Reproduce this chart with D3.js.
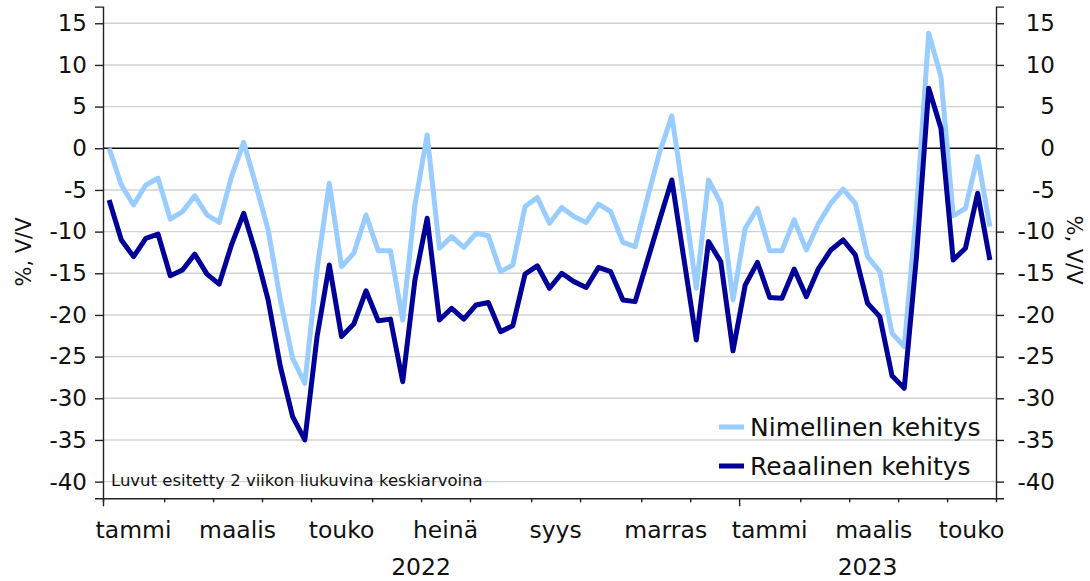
<!DOCTYPE html>
<html>
<head>
<meta charset="utf-8">
<script src="https://cdn.jsdelivr.net/npm/d3@7/dist/d3.min.js"></script>
<style>
    body { margin: 0; background: #fff; }
    svg { display: block; font-family: "DejaVu Sans", sans-serif; }
</style>
</head>
<body>
<svg id="vis" width="1090" height="581"></svg>
<script>
// weekly series, 2 week moving average (Jan 2022 -> May 2023)
var nimellinen = [
    0, -4.4, -6.8, -4.4, -3.6, -8.5, -7.6, -5.7, -8.0, -8.9,
    -3.4, 0.7, -4.4, -9.8, -18.2, -25.2, -28.2, -14.5, -4.2, -14.2,
    -12.6, -8.0, -12.3, -12.3, -20.6, -6.8, 1.6, -12.0, -10.6, -11.9,
    -10.2, -10.5, -14.8, -14.0, -7.0, -5.9, -9.0, -7.1, -8.2, -8.9,
    -6.7, -7.6, -11.3, -11.8, -6.0, -0.5, 3.9, -6.0, -16.8, -3.8,
    -6.6, -18.2, -9.6, -7.2, -12.3, -12.3, -8.6, -12.2, -9.0, -6.6,
    -4.9, -6.6, -13.0, -14.8, -22.2, -23.8, -7.5, 13.8, 8.6, -8.1,
    -7.2, -1.0, -9.4
];
var reaalinen = [
    -6.2, -11.0, -13.0, -10.8, -10.3, -15.3, -14.6, -12.7, -15.1, -16.3,
    -11.6, -7.8, -12.6, -18.2, -26.2, -32.2, -35.0, -22.6, -14.0, -22.6,
    -21.1, -17.1, -20.7, -20.5, -28.0, -15.8, -8.4, -20.6, -19.2, -20.5,
    -18.8, -18.5, -22.0, -21.3, -15.1, -14.1, -16.8, -15.0, -16.0, -16.7,
    -14.3, -14.8, -18.2, -18.4, -13.5, -8.6, -3.8, -13.4, -23.0, -11.2,
    -13.6, -24.3, -16.4, -13.7, -17.9, -18.0, -14.5, -17.8, -14.4, -12.2,
    -11.0, -12.8, -18.6, -20.2, -27.3, -28.8, -13.0, 7.2, 2.4, -13.4,
    -12.0, -5.4, -13.4
];

// weeks in each month on the category axis
var monthWeeks = [5, 4, 4, 4, 5, 4, 4, 5, 4, 5, 4, 4, 5, 4, 4, 4, 4];
var monthLabels = ["tammi", "", "maalis", "", "touko", "", "heinä", "", "syys", "", "marras", "",
                   "tammi", "", "maalis", "", "touko"];
var years = ["2022", "2023"];
var yearMonths = [12, 5];

var yTicks = [-40, -35, -30, -25, -20, -15, -10, -5, 0, 5, 10, 15];

var seriesNames = ["Nimellinen kehitys", "Reaalinen kehitys"];
var seriesColours = ["#99ccff", "#000099"];

const MARGINS = {top: 6.6, right: 94, bottom: 82.7, left: 103};
const WIDTH = 1090, HEIGHT = 581;

window.onload = function(){
    draw();
};

function draw(){
    var svg = d3.select("#vis");
    var nWeeks = d3.sum(monthWeeks);

    var x = d3.scaleLinear()
        .domain([0, nWeeks])
        .range([MARGINS.left, WIDTH - MARGINS.right]);
    var y = d3.scaleLinear()
        .domain([-42, 17])
        .range([HEIGHT - MARGINS.bottom, MARGINS.top]);

    // gridlines
    svg.append("g")
        .selectAll("line")
        .data(yTicks.filter(function(d){ return d !== 0; }))
        .enter().append("line")
        .attr("x1", x(0)).attr("x2", x(nWeeks))
        .attr("y1", function(d){ return y(d); })
        .attr("y2", function(d){ return y(d); })
        .attr("stroke", "#d2d2d2")
        .attr("stroke-width", 1.4);

    // zero line
    svg.append("line")
        .attr("x1", x(0)).attr("x2", x(nWeeks))
        .attr("y1", y(0)).attr("y2", y(0))
        .attr("stroke", "#111")
        .attr("stroke-width", 1.4);

    // y axes, left and right
    var yLeft = svg.append("g")
        .attr("transform", `translate(${x(0)},0)`)
        .call(d3.axisLeft(y).tickValues(yTicks).tickSize(8).tickPadding(8)
            .tickFormat(function(d){ return String(d); }));
    var yRight = svg.append("g")
        .attr("transform", `translate(${x(nWeeks)},0)`)
        .call(d3.axisRight(y).tickValues(yTicks).tickSize(8).tickPadding(8)
            .tickFormat(function(d){ return String(d); }));
    yRight.selectAll("text").attr("text-anchor", "end").attr("x", 59);

    [yLeft, yRight].forEach(function(g){
        g.attr("font-family", null).attr("font-size", null);
        g.select(".domain").attr("stroke", "#222").attr("stroke-width", 1.4);
        g.selectAll(".tick line").attr("stroke", "#222").attr("stroke-width", 1.4);
        g.selectAll("text").attr("fill", "#111").style("font-size", "23px");
    });

    // x axis, ticks on month boundaries
    var monthStarts = [0];
    monthWeeks.forEach(function(w, i){ monthStarts.push(monthStarts[i] + w); });
    var yearStarts = [0, 12].map(function(m){ return monthStarts[m]; });

    var xAxis = svg.append("g")
        .attr("transform", `translate(0,${y(-42)})`)
        .call(d3.axisBottom(x).tickValues(monthStarts.slice(0, -1)).tickSize(4).tickFormat(""));
    xAxis.select(".domain").attr("stroke", "#222").attr("stroke-width", 1.4);
    xAxis.selectAll(".tick line")
        .attr("stroke", "#222").attr("stroke-width", 1.4)
        .attr("y2", function(d){ return yearStarts.indexOf(d) >= 0 ? 8 : 4; });

    // month labels every second month
    svg.append("g")
        .selectAll("text")
        .data(monthLabels)
        .enter().append("text")
        .attr("x", function(d, i){ return x((monthStarts[i] + monthStarts[i + 1]) / 2); })
        .attr("y", 538)
        .attr("text-anchor", "middle")
        .style("font-size", "23.5px")
        .attr("fill", "#111")
        .text(function(d){ return d; });

    // year labels centred under their months
    var m0 = 0;
    years.forEach(function(yr, i){
        var a = monthStarts[m0], b = monthStarts[m0 + yearMonths[i]];
        svg.append("text")
            .attr("x", x((a + b) / 2))
            .attr("y", 575)
            .attr("text-anchor", "middle")
            .style("font-size", "23.5px")
            .attr("fill", "#111")
            .text(yr);
        m0 += yearMonths[i];
    });

    // axis titles
    svg.append("text")
        .attr("transform", "translate(24,252) rotate(-90)")
        .attr("text-anchor", "middle")
        .attr("dominant-baseline", "central")
        .style("font-size", "21px")
        .attr("fill", "#111")
        .text("%, V/V");
    svg.append("text")
        .attr("transform", "translate(1074,250) rotate(90)")
        .attr("text-anchor", "middle")
        .attr("dominant-baseline", "central")
        .style("font-size", "21px")
        .attr("fill", "#111")
        .text("%, V/V");

    // series lines
    var line = d3.line()
        .x(function(d, i){ return x(i + 0.5); })
        .y(function(d){ return y(d); });

    [nimellinen, reaalinen].forEach(function(s, k){
        svg.append("path")
            .datum(s)
            .attr("d", line)
            .attr("fill", "none")
            .attr("stroke", seriesColours[k])
            .attr("stroke-width", 5)
            .attr("stroke-linejoin", "round");
    });

    // note
    svg.append("text")
        .attr("x", 111)
        .attr("y", 486)
        .style("font-size", "16.5px")
        .attr("fill", "#111")
        .text("Luvut esitetty 2 viikon liukuvina keskiarvoina");

    // legend
    var legend = svg.append("g").attr("transform", "translate(719,427)");
    seriesNames.forEach(function(name, k){
        var row = legend.append("g").attr("transform", `translate(0,${k * 39})`);
        row.append("line")
            .attr("x1", 0).attr("x2", 25)
            .attr("stroke", seriesColours[k])
            .attr("stroke-width", 5);
        row.append("text")
            .attr("x", 31)
            .attr("y", 9)
            .style("font-size", "25px")
            .attr("fill", "#111")
            .text(name);
    });
}
</script>
</body>
</html>
